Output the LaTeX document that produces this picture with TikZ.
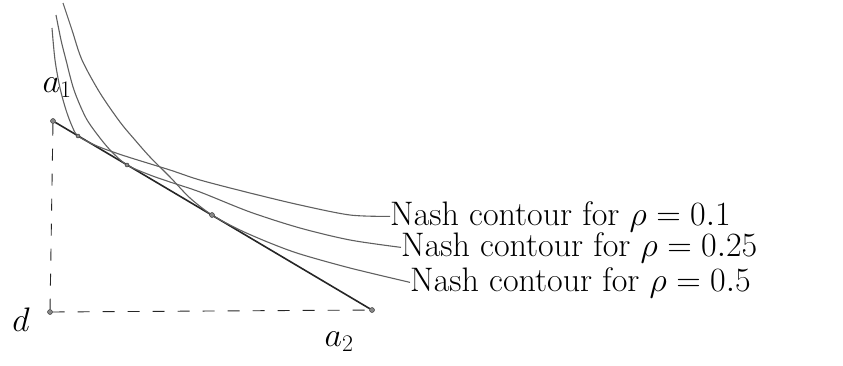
\RequirePackage{fix-cm}
\documentclass[tikz,border=0pt]{standalone}
\usepackage{xcolor}
\definecolor{inkdark}{HTML}{262626}
\definecolor{inkgrey}{HTML}{606060}
\newcommand{\contourfont}{\fontsize{34}{38}\selectfont}
\tikzset{
  dot/.style={circle,draw=inkdark,fill=inkdark!55,inner sep=0pt,minimum size=5pt},
  guide/.style={inkdark,line width=0.9pt,dash pattern=on 12pt off 13pt},
  frontier/.style={inkdark,line width=1.6pt},
  contour/.style={inkgrey,line width=1.1pt},
  curvelabel/.style={anchor=base west,inner sep=0pt,font=\contourfont},
  axislabel/.style={inner sep=0pt,font=\fontsize{34}{38}\selectfont}
}

\begin{document}
\begin{tikzpicture}[x=1pt,y=-1pt]
  \useasboundingbox (0,0) rectangle (843,365);

  % Disagreement point and the two extreme points
  \node[dot] (d) at (50,312) {};
  \node[dot] (a1) at (53,121) {};
  \node[dot] (a2) at (372,310) {};
  \node[axislabel] (dlabel) at (21,320) {$d$};
  \node[axislabel] (a1label) at (57,88) {$a_1$};
  \node[axislabel] (a2label) at (339,342) {$a_2$};

  % Dashed guides
  \draw[guide] (a1) -- (d);
  \draw[guide] (d) -- (a2);

  % Bargaining frontier
  \draw[frontier] (a1) -- (a2);

  % Tangency points
  \coordinate (tA) at (78,136);
  \coordinate (tB) at (127,165);
  \coordinate (tC) at (212,215);

  % Curve labels
  \node[curvelabel] (lA) at (390,225) {Nash contour for $\rho = 0.1$};
  \node[curvelabel] (lB) at (401,256) {Nash contour for $\rho = 0.25$};
  \node[curvelabel] (lC) at (410,291) {Nash contour for $\rho = 0.5$};

  % Nash contours
  \draw[contour] plot[smooth] coordinates {(52,28) (55,60) (60,88) (66,110)
    (72,126) (tA) (97,146) (125,156) (170,170) (200,180) (250,193) (300,205)
    (350,215) (lA.west)};
  \draw[contour] plot[smooth] coordinates {(56,15) (61,40) (66,60) (74,90)
    (86,118) (100,138) (112,152) (tB) (150,175) (170,182) (200,192) (250,212)
    (300,228) (350,240) (lB.west)};
  \draw[contour] plot[smooth] coordinates {(63,3) (72,30) (82,60) (100,93)
    (120,122) (135,140) (150,157) (170,177) (190,198) (tC) (240,230) (270,243)
    (300,254) (350,268) (lC.west)};

  % Marks on the frontier
  \node[dot,minimum size=4pt] (mA) at (tA) {};
  \node[dot,minimum size=4pt] (mB) at (tB) {};
  \node[dot,minimum size=5pt] (mC) at (tC) {};
\end{tikzpicture}
\end{document}
